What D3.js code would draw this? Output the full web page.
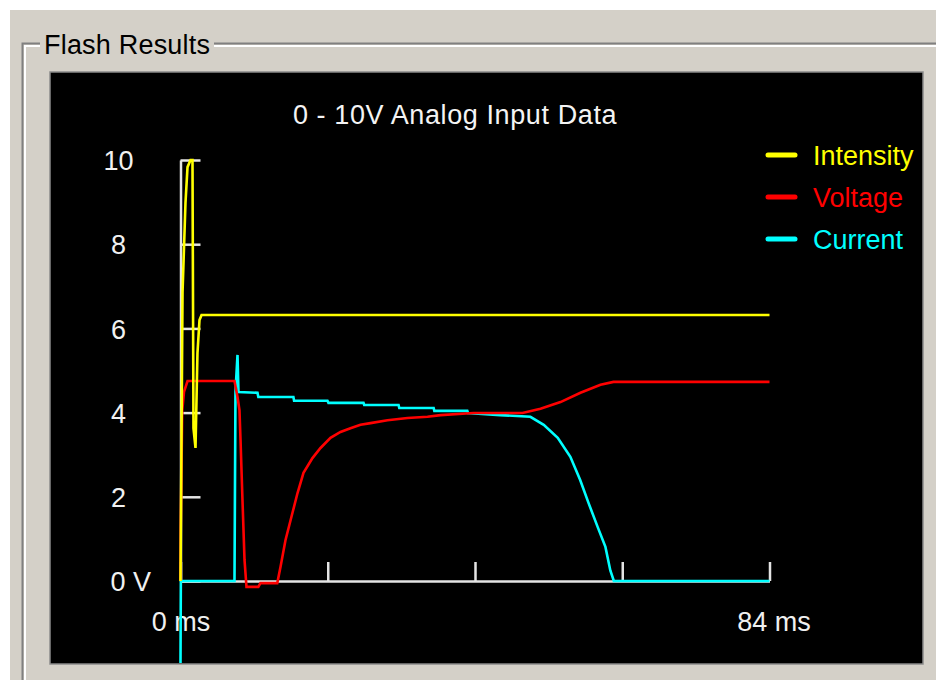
<!DOCTYPE html>
<html>
<head>
<meta charset="utf-8">
<script src="https://cdn.jsdelivr.net/npm/d3@7"></script>
<style>
  body { margin: 0; background: #ffffff; }
  svg { display: block; font-family: "Liberation Sans", Arial, sans-serif; }
</style>
</head>
<body>
<svg id="chart" width="936" height="680"></svg>
<script>
// ---------- data ----------
const frameTitle = "Flash Results";
const chartTitle = "0 - 10V Analog Input Data";
const seriesNames = ["Intensity", "Voltage", "Current"];
const seriesColors = ["#ffff00", "#ff0000", "#00ffff"];

const yTicks = [0, 2, 4, 6, 8, 10];
const yTickLabels = ["0 V", "2", "4", "6", "8", "10"];
const xTicks = [0, 21, 42, 63, 84];
const xTickLabels = ["0 ms", "", "", "", "84 ms"];

// time (ms) and value (V) for each series
const intensityT = [0, 0.29, 0.71, 1.0, 1.43, 1.71, 1.85, 2.14, 2.42, 2.71, 3.0, 84];
const intensityV = [0, 6.86, 8.98, 9.83, 10.0, 10.0, 3.63, 3.16, 5.42, 6.2, 6.32, 6.32];

const voltageT = [0, 0.03, 0.25, 0.5, 1.0, 7.7, 8.13, 8.41, 8.56, 8.84, 9.13, 9.41, 11.1, 11.4, 13.8,
  14.26, 14.97, 15.97, 16.69, 17.54, 18.82, 19.97, 21.39, 22.82, 24.24, 25.67, 27.1, 29.52, 32.37, 35.23,
  37.08, 41.79, 48.77, 51.34, 54.19, 57.04, 59.9, 61.75, 84];
const voltageV = [0, 1.2, 4.06, 4.49, 4.75, 4.75, 4.37, 4.06, 3.35, 1.92, 0.5, -0.14, -0.14, -0.05, -0.05,
  0.33, 0.97, 1.62, 2.09, 2.57, 2.92, 3.16, 3.4, 3.54, 3.63, 3.71, 3.75, 3.82, 3.87, 3.9,
  3.94, 3.99, 3.99, 4.09, 4.25, 4.47, 4.66, 4.73, 4.73];

const currentT = [0, 0.05, 7.7, 7.84, 8.13, 8.27, 10.98, 11.1, 16.1, 16.2, 20.96, 21.1, 26.1, 26.2, 31.1,
  31.2, 36.1, 36.2, 40.9, 41.0, 45.6, 49.9, 51.8, 53.8, 55.6, 57.0, 58.2, 59.5, 60.6, 61.3, 61.8, 84];
const currentV = [-1.95, 0, 0, 4.49, 5.37, 4.49, 4.47, 4.37, 4.37, 4.28, 4.28, 4.23, 4.23, 4.18, 4.18,
  4.11, 4.11, 4.04, 4.04, 3.99, 3.94, 3.9, 3.71, 3.4, 2.95, 2.4, 1.85, 1.28, 0.81, 0.25, 0, 0];

// ---------- drawing ----------
const svg = d3.select("#chart");
const font = 27;

// window background
svg.append("rect").attr("x", 0).attr("y", 0).attr("width", 936).attr("height", 680).attr("fill", "#ffffff");
svg.append("rect").attr("x", 10).attr("y", 10).attr("width", 926).attr("height", 670).attr("fill", "#d4d0c8");

// group box (etched frame)
const gb = svg.append("g").attr("fill", "none");
gb.append("path").attr("d", "M22.5,680 V43.5 H40 M214,43.5 H936").attr("stroke", "#808080").attr("stroke-width", 2);
gb.append("path").attr("d", "M25,680 V46 H40 M214,46 H936").attr("stroke", "#ffffff").attr("stroke-width", 2);
svg.append("text").attr("x", 44).attr("y", 54).attr("font-size", font).attr("fill", "#000")
  .attr("letter-spacing", 0.2).text(frameTitle);

// black plot panel
const panel = { x: 50, y: 72, w: 873, h: 592 };
svg.append("rect").attr("x", panel.x).attr("y", panel.y).attr("width", panel.w).attr("height", panel.h)
  .attr("fill", "#000000").attr("stroke", "#8a8a8a").attr("stroke-width", 1.5);
svg.append("clipPath").attr("id", "clip").append("rect")
  .attr("x", panel.x).attr("y", panel.y).attr("width", panel.w).attr("height", panel.h);

// scales
const x = d3.scaleLinear().domain([0, 84]).range([180.5, 769.5]);
const y = d3.scaleLinear().domain([0, 10]).range([581, 160]);

const axisColor = "#e4e4e4";

// y axis
const gy = svg.append("g").attr("transform", "translate(180.5,0)")
  .call(d3.axisLeft(y).tickValues(yTicks).tickSize(-20).tickSizeOuter(0)
    .tickFormat(d => yTickLabels[yTicks.indexOf(d)]));
gy.selectAll("path, line").attr("stroke", axisColor).attr("stroke-width", 2.5);
gy.selectAll("text")
  .attr("font-size", font).attr("font-family", "Liberation Sans, Arial, sans-serif")
  .attr("fill", "#f0f0f0")
  .attr("x", d => d === 0 ? -70 : -62)
  .attr("text-anchor", d => d === 0 ? "start" : "middle")
  .attr("dy", "0.36em");

// x axis
const gx = svg.append("g").attr("transform", "translate(0,581)")
  .call(d3.axisBottom(x).tickValues(xTicks).tickSize(-19).tickSizeOuter(0)
    .tickFormat(d => xTickLabels[xTicks.indexOf(d)]));
gx.selectAll("path, line").attr("stroke", axisColor).attr("stroke-width", 2.5);
gx.selectAll("text")
  .attr("font-size", font).attr("font-family", "Liberation Sans, Arial, sans-serif")
  .attr("fill", "#f0f0f0").attr("y", 0).attr("dy", "1.84em")
  .attr("dx", d => d === 84 ? 4 : 0);

// title
svg.append("text").attr("x", 455).attr("y", 124).attr("text-anchor", "middle")
  .attr("font-size", font).attr("letter-spacing", 0.6).attr("fill", "#f4f4f4").text(chartTitle);

// series lines
const line = d3.line().x(d => x(d[0])).y(d => y(d[1]));
const series = [
  { t: intensityT, v: intensityV, c: seriesColors[0] },
  { t: voltageT, v: voltageV, c: seriesColors[1] },
  { t: currentT, v: currentV, c: seriesColors[2] }
];
const drawOrder = [2, 1, 0];
const gl = svg.append("g").attr("clip-path", "url(#clip)");
drawOrder.forEach(i => {
  const s = series[i];
  const pts = s.t.map((t, k) => [t, s.v[k]]);
  gl.append("path").datum(pts).attr("d", line)
    .attr("fill", "none").attr("stroke", s.c).attr("stroke-width", 2.6)
    .attr("stroke-linejoin", "miter");
});

// legend
const lg = svg.append("g");
seriesNames.forEach((name, i) => {
  const cy = 155 + 42 * i;
  lg.append("line").attr("x1", 768).attr("x2", 795).attr("y1", cy).attr("y2", cy)
    .attr("stroke", seriesColors[i]).attr("stroke-width", 5).attr("stroke-linecap", "round");
  lg.append("text").attr("x", 813).attr("y", cy).attr("dy", "0.36em")
    .attr("font-size", font).attr("fill", seriesColors[i]).text(name);
});
</script>
</body>
</html>
